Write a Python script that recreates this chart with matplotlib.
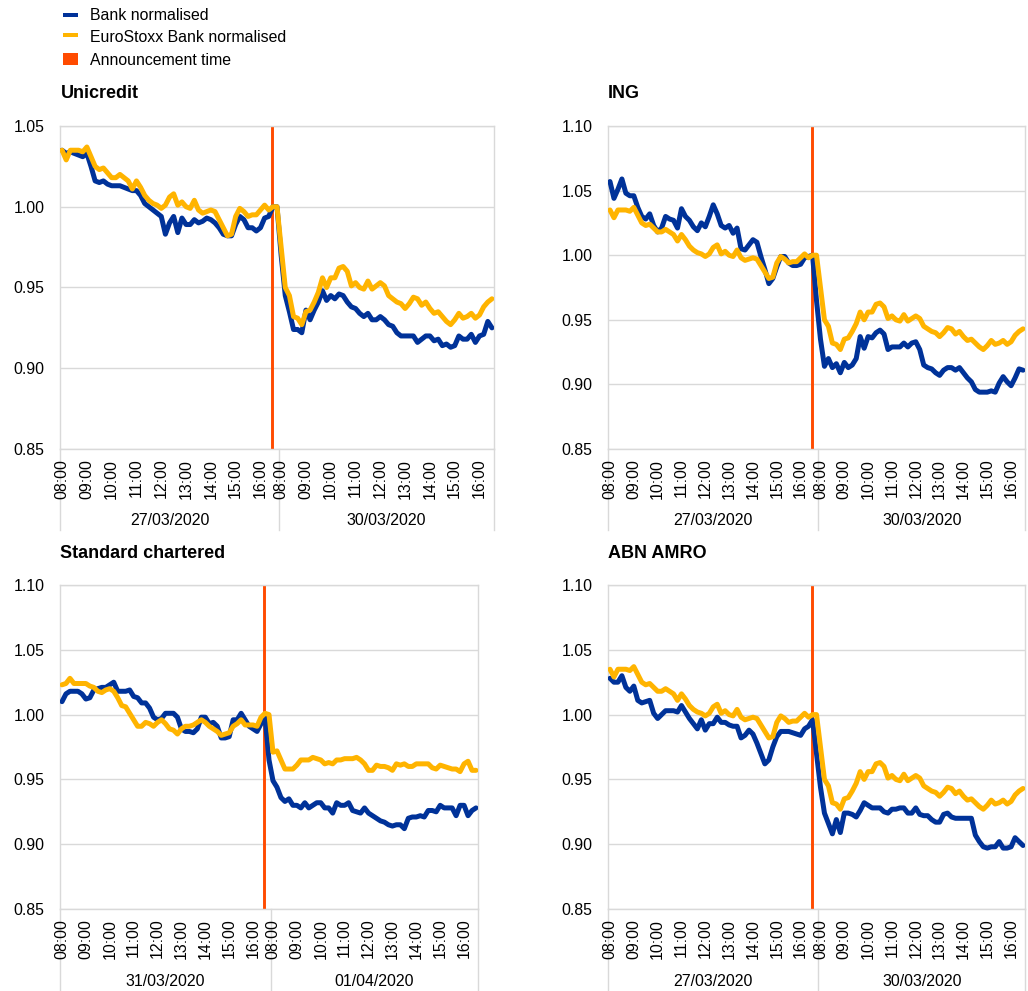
import matplotlib
matplotlib.use('Agg')
import matplotlib.pyplot as plt
from matplotlib.patches import Rectangle
import matplotlib.transforms as mtransforms

plt.rcParams['font.family'] = ['Liberation Sans', 'DejaVu Sans']

W, H = 1028, 991

# ---------------- data ----------------
# 10-minute category grid: first day 08:00-16:40, second day 08:00-16:30
day1_times = [f"{8 + (k * 10) // 60:02d}:{(k * 10) % 60:02d}" for k in range(53)]
day2_times = [f"{8 + (k * 10) // 60:02d}:{(k * 10) % 60:02d}" for k in range(52)]
categories = day1_times + day2_times

announcement_time = "16:28"  # on first day

# EuroStoxx Bank normalised, 27/03/2020 - 30/03/2020
eurostoxx_27_30 = [
    1.035, 1.029, 1.035, 1.035, 1.035, 1.034, 1.037, 1.031, 1.025, 1.023,
    1.024, 1.021, 1.018, 1.018, 1.020, 1.018, 1.016, 1.011, 1.016, 1.012,
    1.007, 1.004, 1.002, 1.001, 0.999, 1.001, 1.006, 1.008, 1.001, 1.003,
    1.000, 0.999, 1.004, 0.998, 0.996, 0.997, 0.998, 0.997, 0.992, 0.987,
    0.982, 0.983, 0.994, 0.999, 0.997, 0.994, 0.995, 0.995, 0.998, 1.001,
    0.998, 1.000, 1.000,
] + [
    0.975, 0.950, 0.945, 0.932, 0.931, 0.927, 0.935, 0.936, 0.941, 0.947,
    0.956, 0.950, 0.956, 0.956, 0.962, 0.963, 0.960, 0.951, 0.953, 0.950,
    0.949, 0.954, 0.949, 0.951, 0.953, 0.951, 0.945, 0.943, 0.941, 0.940,
    0.937, 0.940, 0.944, 0.943, 0.939, 0.941, 0.937, 0.934, 0.935, 0.932,
    0.929, 0.927, 0.930, 0.934, 0.931, 0.932, 0.934, 0.931, 0.933, 0.938,
    0.941, 0.943,
]

# EuroStoxx Bank normalised, 31/03/2020 - 01/04/2020
eurostoxx_31_01 = [
    1.023, 1.024, 1.028, 1.024, 1.024, 1.024, 1.024, 1.022, 1.021, 1.018,
    1.017, 1.019, 1.020, 1.018, 1.013, 1.007, 1.006, 1.001, 0.996, 0.991,
    0.991, 0.994, 0.993, 0.991, 0.994, 0.996, 0.993, 0.989, 0.988, 0.985,
    0.989, 0.991, 0.991, 0.992, 0.994, 0.996, 0.994, 0.991, 0.989, 0.987,
    0.984, 0.985, 0.986, 0.991, 0.993, 0.996, 0.992, 0.992, 0.992, 0.991,
    0.998, 1.001, 1.000,
] + [
    0.971, 0.972, 0.965, 0.958, 0.958, 0.958, 0.961, 0.965, 0.965, 0.965,
    0.967, 0.966, 0.965, 0.962, 0.963, 0.962, 0.965, 0.965, 0.966, 0.966,
    0.966, 0.967, 0.965, 0.962, 0.957, 0.957, 0.961, 0.960, 0.960, 0.959,
    0.957, 0.962, 0.961, 0.962, 0.960, 0.960, 0.962, 0.962, 0.962, 0.962,
    0.959, 0.958, 0.961, 0.960, 0.959, 0.958, 0.958, 0.956, 0.962, 0.964,
    0.957, 0.957,
]

unicredit_bank = [
    1.035, 1.033, 1.034, 1.033, 1.032, 1.031, 1.033, 1.025, 1.016, 1.015,
    1.016, 1.014, 1.013, 1.013, 1.013, 1.012, 1.011, 1.010, 1.010, 1.007,
    1.002, 1.000, 0.998, 0.996, 0.994, 0.983, 0.990, 0.994, 0.984, 0.993,
    0.989, 0.989, 0.992, 0.990, 0.991, 0.993, 0.992, 0.990, 0.987, 0.983,
    0.982, 0.982, 0.989, 0.994, 0.992, 0.987, 0.987, 0.985, 0.987, 0.993,
    0.994, 1.000, 1.000,
] + [
    0.970, 0.945, 0.935, 0.924, 0.924, 0.922, 0.936, 0.930, 0.936, 0.941,
    0.948, 0.942, 0.945, 0.943, 0.946, 0.945, 0.941, 0.938, 0.937, 0.934,
    0.932, 0.934, 0.930, 0.930, 0.932, 0.930, 0.927, 0.926, 0.922, 0.920,
    0.920, 0.920, 0.920, 0.916, 0.918, 0.920, 0.920, 0.917, 0.918, 0.914,
    0.915, 0.913, 0.914, 0.920, 0.918, 0.918, 0.921, 0.916, 0.920, 0.921,
    0.929, 0.925,
]

ing_bank = [
    1.057, 1.044, 1.051, 1.059, 1.048, 1.046, 1.046, 1.037, 1.030, 1.028,
    1.032, 1.023, 1.018, 1.021, 1.030, 1.028, 1.027, 1.021, 1.036, 1.030,
    1.027, 1.022, 1.019, 1.025, 1.022, 1.030, 1.039, 1.032, 1.023, 1.021,
    1.023, 1.017, 1.021, 1.005, 1.004, 1.008, 1.012, 1.010, 0.999, 0.989,
    0.978, 0.982, 0.991, 0.999, 0.999, 0.994, 0.992, 0.992, 0.993, 0.998,
    0.999, 1.000, 0.965,
] + [
    0.935, 0.914, 0.920, 0.913, 0.916, 0.909, 0.917, 0.913, 0.915, 0.920,
    0.937, 0.928, 0.937, 0.936, 0.940, 0.942, 0.939, 0.927, 0.929, 0.929,
    0.929, 0.932, 0.929, 0.932, 0.933, 0.927, 0.915, 0.913, 0.912, 0.909,
    0.907, 0.911, 0.913, 0.913, 0.911, 0.913, 0.909, 0.905, 0.902, 0.896,
    0.894, 0.894, 0.894, 0.895, 0.894, 0.901, 0.906, 0.902, 0.899, 0.905,
    0.912, 0.911,
]

stanchart_bank = [
    1.010, 1.016, 1.018, 1.018, 1.018, 1.016, 1.012, 1.013, 1.019, 1.020,
    1.021, 1.021, 1.023, 1.025, 1.018, 1.018, 1.018, 1.019, 1.014, 1.013,
    1.009, 1.009, 1.005, 0.998, 0.996, 0.997, 1.001, 1.001, 1.001, 0.998,
    0.989, 0.987, 0.987, 0.986, 0.989, 0.998, 0.998, 0.993, 0.994, 0.991,
    0.982, 0.982, 0.983, 0.996, 0.996, 1.001, 0.996, 0.991, 0.989, 0.987,
    0.993, 0.998, 0.965,
] + [
    0.949, 0.944, 0.936, 0.933, 0.935, 0.930, 0.930, 0.928, 0.932, 0.928,
    0.930, 0.932, 0.932, 0.928, 0.928, 0.924, 0.932, 0.930, 0.930, 0.932,
    0.926, 0.925, 0.924, 0.928, 0.924, 0.922, 0.920, 0.918, 0.917, 0.915,
    0.914, 0.915, 0.915, 0.912, 0.920, 0.921, 0.921, 0.922, 0.921, 0.926,
    0.926, 0.925, 0.930, 0.928, 0.928, 0.928, 0.922, 0.930, 0.930, 0.922,
    0.926, 0.928,
]

abnamro_bank = [
    1.028, 1.025, 1.025, 1.030, 1.021, 1.018, 1.022, 1.011, 1.009, 1.010,
    1.011, 1.001, 0.997, 1.000, 1.003, 1.003, 1.003, 1.002, 1.007, 1.002,
    0.997, 0.993, 0.989, 0.996, 0.988, 0.993, 0.993, 0.998, 0.994, 0.994,
    0.992, 0.991, 0.991, 0.982, 0.984, 0.988, 0.985, 0.978, 0.970, 0.962,
    0.965, 0.975, 0.983, 0.987, 0.987, 0.987, 0.986, 0.985, 0.984, 0.989,
    0.991, 0.996, 0.970,
] + [
    0.944, 0.924, 0.916, 0.908, 0.919, 0.909, 0.924, 0.924, 0.923, 0.921,
    0.926, 0.932, 0.930, 0.928, 0.928, 0.928, 0.925, 0.924, 0.927, 0.927,
    0.928, 0.928, 0.924, 0.924, 0.928, 0.923, 0.922, 0.922, 0.919, 0.917,
    0.917, 0.923, 0.924, 0.921, 0.920, 0.920, 0.920, 0.920, 0.920, 0.907,
    0.902, 0.898, 0.897, 0.898, 0.898, 0.902, 0.897, 0.897, 0.898, 0.905,
    0.902, 0.899,
]

titles = ["Unicredit", "ING", "Standard chartered", "ABN AMRO"]
date_pairs = [("27/03/2020", "30/03/2020"), ("27/03/2020", "30/03/2020"),
              ("31/03/2020", "01/04/2020"), ("27/03/2020", "30/03/2020")]
bank_series = [unicredit_bank, ing_bank, stanchart_bank, abnamro_bank]
index_series = [eurostoxx_27_30, eurostoxx_27_30, eurostoxx_31_01, eurostoxx_27_30]
y_tops = [1.05, 1.10, 1.10, 1.10]

legend_labels = ["Bank normalised", "EuroStoxx Bank normalised", "Announcement time"]

# ---------------- style ----------------
BLUE = "#003299"
YELLOW = "#FFB400"
RED = "#FF4B00"
GRID = "#D9D9D9"
FS = 11.4

# plot rectangles in pixels: left, top, right, bottom
rects = [(60, 126, 494, 449), (608, 126, 1025, 449),
         (60, 585, 478, 909), (608, 585, 1025, 909)]
title_pos = [(61, 94), (608, 94), (60, 553), (608, 553)]

fig = plt.figure(figsize=(W / 100, H / 100), dpi=100)

n1 = len(day1_times)
n = len(categories)
xs = list(range(n))
ah, am = map(int, announcement_time.split(":"))
announce_x = ((ah - 8) * 60 + am) / 10.0

hour_idx = [i for i, t in enumerate(categories) if t.endswith(":00")]
hour_lbl = [categories[i] for i in hour_idx]

for k in range(4):
    l, t, r, b = rects[k]
    ax = fig.add_axes([l / W, 1 - b / H, (r - l) / W, (b - t) / H])
    ax.axvline(announce_x, color=RED, lw=2.1, zorder=2)
    ax.plot(xs, bank_series[k], color=BLUE, lw=3.6, zorder=3,
            solid_joinstyle='round', solid_capstyle='round')
    ax.plot(xs, index_series[k], color=YELLOW, lw=3.6, zorder=4,
            solid_joinstyle='round', solid_capstyle='round')
    ax.set_xlim(-0.5, n - 0.5)
    ax.set_ylim(0.85, y_tops[k])
    yt = [round(0.85 + 0.05 * j, 2) for j in range(int(round((y_tops[k] - 0.85) / 0.05)) + 1)]
    ax.set_yticks(yt)
    ax.set_yticklabels([f"{v:.2f}" for v in yt], fontsize=FS)
    ax.set_xticks(hour_idx)
    ax.set_xticklabels(hour_lbl, rotation=90, fontsize=FS)
    ax.tick_params(axis='x', length=0, pad=7)
    ax.tick_params(axis='y', length=0, pad=11)
    ax.grid(axis='y', color=GRID, lw=1, zorder=0)
    ax.set_axisbelow(True)
    for s in ax.spines.values():
        s.set_color(GRID)
        s.set_linewidth(1)
    # multi-level category separators and date labels
    trans = mtransforms.blended_transform_factory(ax.transData, ax.transAxes)
    hpx = b - t
    sep_bottom = -81.0 / hpx
    for xsep in (-0.5, n1 - 0.5, n - 0.5):
        ax.plot([xsep, xsep], [0, sep_bottom], transform=trans, color=GRID,
                lw=1, clip_on=False, zorder=0)
    ax.text((n1 - 1) / 2.0, -72.0 / hpx, date_pairs[k][0], transform=trans,
            ha='center', va='center', fontsize=FS)
    ax.text((n1 + n - 1) / 2.0, -72.0 / hpx, date_pairs[k][1], transform=trans,
            ha='center', va='center', fontsize=FS)
    tx, ty = title_pos[k]
    fig.text(tx / W, 1 - ty / H, titles[k], fontsize=13, fontweight='bold',
             ha='left', va='center')

# legend (drawn manually in figure pixels)
leg_items = [(BLUE, 12.7, 3.8, 15.3), (YELLOW, 33.5, 3.8, 37.5), (RED, 53.3, 12, 60.8)]
for (col, top, hgt, yc), lab in zip(leg_items, legend_labels):
    fig.add_artist(Rectangle((63 / W, 1 - (top + hgt) / H), 15 / W, hgt / H,
                             transform=fig.transFigure, color=col, lw=0))
    fig.text(90 / W, 1 - yc / H, lab, fontsize=FS, ha='left', va='center')

fig.savefig("out.png", dpi=100)
